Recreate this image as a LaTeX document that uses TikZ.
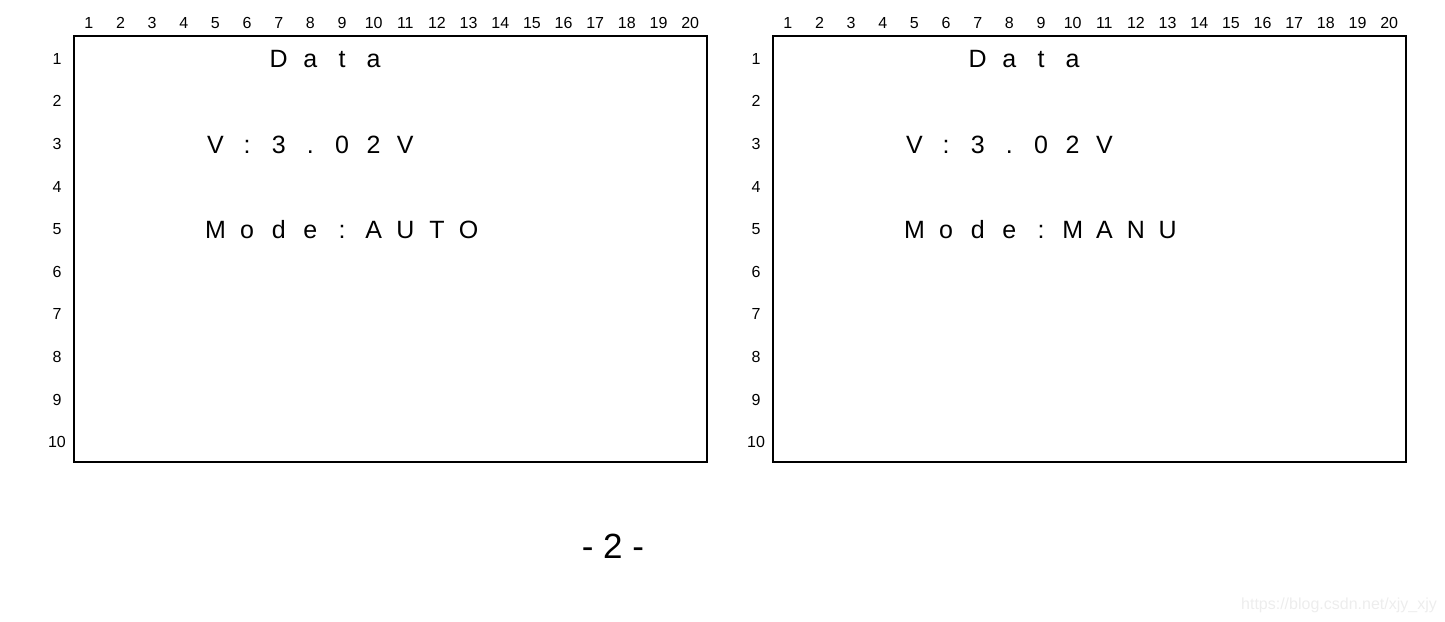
\documentclass[tikz,border=0pt]{standalone}
\usepackage{fontspec}
\setmainfont{Liberation Sans}
\begin{document}
\begin{tikzpicture}[x=1pt,y=-1pt,
  screen/.style={draw=black,line width=2.2pt,minimum width=633pt,minimum height=426pt,anchor=north west,inner sep=0pt},
  gridnum/.style={font=\fontsize{16}{18}\selectfont,inner sep=0pt,anchor=base},
  rownum/.style={font=\fontsize{16}{18}\selectfont,inner sep=0pt,anchor=base},
  cell/.style={font=\fontsize{25}{30}\selectfont,inner sep=0pt,anchor=base},
  pagenum/.style={font=\fontsize{35}{40}\selectfont,inner sep=0pt,anchor=base},
  wmark/.style={font=\fontsize{16}{18}\selectfont,text=black!7,inner sep=0pt,anchor=base east}]
\useasboundingbox (0,0) rectangle (1445,621);
\foreach \ox/\nm/\mode in {73/L/{A,U,T,O},772/R/{M,A,N,U}} {
  \node[screen] (box\nm) at (\ox,35) {};
  \foreach \c in {1,...,20}
    \node[gridnum] (col\nm\c) at ({\ox+(\c-0.5)*31.65},28) {\c};
  \foreach \r in {1,...,10}
    \node[rownum] (row\nm\r) at ({\ox-16},{35+(\r-0.5)*42.6+8}) {\r};
  \foreach \ch [count=\i from 7] in {D,a,t,a}
    \node[cell] (d\nm\i) at ({\ox+(\i-0.5)*31.65},{35+0.5*42.6+11.5}) {\ch};
  \foreach \ch [count=\i from 5] in {V,:,3,.,0,2,V}
    \node[cell] (v\nm\i) at ({\ox+(\i-0.5)*31.65},{35+2.5*42.6+11.5}) {\ch};
  \foreach \ch [count=\i from 5] in {M,o,d,e,:}
    \node[cell] (m\nm\i) at ({\ox+(\i-0.5)*31.65},{35+4.5*42.6+11.5}) {\ch};
  \foreach \ch [count=\i from 10] in \mode
    \node[cell] (a\nm\i) at ({\ox+(\i-0.5)*31.65},{35+4.5*42.6+11.5}) {\ch};
}
\node[pagenum] (page) at (613,558) {- 2 -};
\node[wmark] (wm) at (1437,609) {https://blog.csdn.net/xjy\_xjy};
\end{tikzpicture}
\end{document}
